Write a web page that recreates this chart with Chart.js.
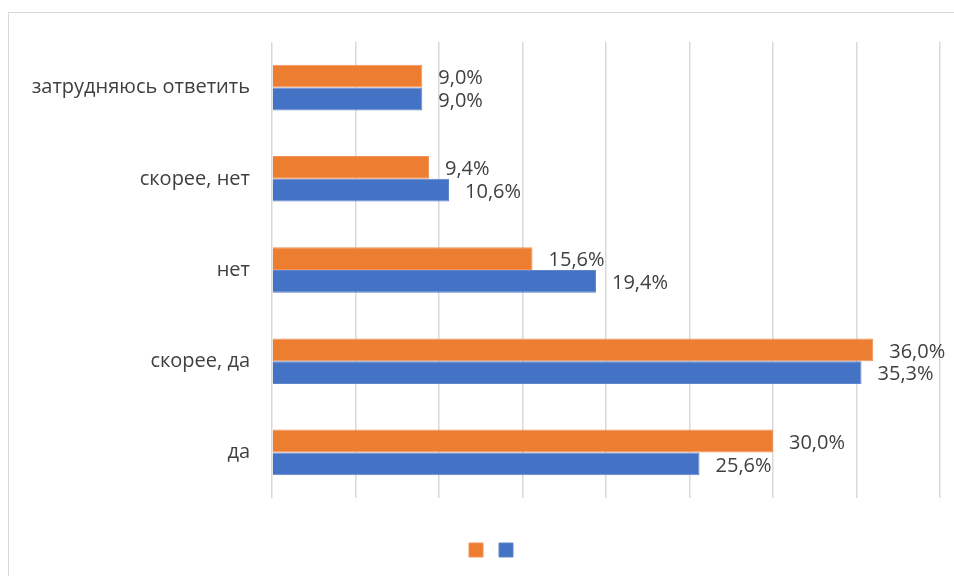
<!DOCTYPE html>
<html>
<head>
<meta charset="utf-8">
<script src="https://cdn.jsdelivr.net/npm/chart.js@4.4.1/dist/chart.umd.min.js"></script>
<style>
  html, body { margin: 0; padding: 0; background: #fff; overflow: hidden; }
  #frame { position: absolute; left: 8px; top: 12px; width: 1000px; height: 640px; border: 1px solid #d9d9d9; box-sizing: border-box; }
  #wrap { position: absolute; left: 0; top: 0; width: 954px; height: 576px; }
</style>
</head>
<body>
<div id="frame"></div>
<div id="wrap"><canvas id="c" width="954" height="576"></canvas></div>
<script>
// Answer options, top to bottom
const categories = ['затрудняюсь ответить', 'скорее, нет', 'нет', 'скорее, да', 'да'];
// Shares of respondents, percent
const seriesOrange = [9.0, 9.4, 15.6, 36.0, 30.0];
const seriesBlue = [9.0, 10.6, 19.4, 35.3, 25.6];
const xTicks = [0, 5, 10, 15, 20, 25, 30, 35, 40];

const FONT = "'Open Sans', 'Liberation Sans', sans-serif";
const TEXT = '#404040';

const fmt = v => v.toFixed(1).replace('.', ',') + '%';

// Writes each bar's value just past its end
const valueLabels = {
  id: 'valueLabels',
  afterDatasetsDraw(chart) {
    const ctx = chart.ctx;
    ctx.save();
    ctx.font = '20px ' + FONT;
    ctx.fillStyle = TEXT;
    ctx.textAlign = 'left';
    ctx.textBaseline = 'middle';
    chart.data.datasets.forEach((ds, i) => {
      chart.getDatasetMeta(i).data.forEach((bar, j) => {
        ctx.fillText(fmt(ds.data[j]), bar.x + 16, bar.y + 2);
      });
    });
    ctx.restore();
  }
};

new Chart(document.getElementById('c'), {
  type: 'bar',
  data: {
    labels: categories,
    datasets: [
      { label: '', data: seriesOrange, backgroundColor: '#ED7D31', borderColor: '#F0925A', borderWidth: 1, borderSkipped: 'start' },
      { label: '', data: seriesBlue, backgroundColor: '#4472C4', borderColor: '#5F86CC', borderWidth: 1, borderSkipped: 'start' }
    ]
  },
  options: {
    indexAxis: 'y',
    responsive: false,
    animation: false,
    events: [],
    layout: { padding: { left: 28, right: -6, top: 42, bottom: 9 } },
    datasets: { bar: { categoryPercentage: 0.5, barPercentage: 1.0 } },
    scales: {
      x: {
        min: 0, max: 40,
        afterBuildTicks(scale) { scale.ticks = xTicks.map(v => ({ value: v })); },
        afterFit(scale) { scale.height = 35; },
        ticks: { display: false },
        grid: { color: '#d9d9d9', lineWidth: 1.5, drawTicks: false },
        border: { display: false }
      },
      y: {
        afterFit(scale) { scale.width = 244; },
        ticks: { color: TEXT, font: { family: FONT, size: 20 }, padding: 22 },
        grid: { display: false, drawTicks: false },
        border: { display: false }
      },
      // empty margin on the right of the plot
      yRight: {
        type: 'category',
        axis: 'y',
        position: 'right',
        afterFit(scale) { scale.width = 20; },
        ticks: { display: false },
        grid: { display: false, drawTicks: false },
        border: { display: false }
      }
    },
    plugins: {
      tooltip: { enabled: false },
      legend: {
        position: 'bottom',
        labels: { boxWidth: 14, boxHeight: 14, padding: 10, font: { size: 12 }, color: TEXT }
      }
    }
  },
  plugins: [valueLabels]
});
</script>
</body>
</html>
